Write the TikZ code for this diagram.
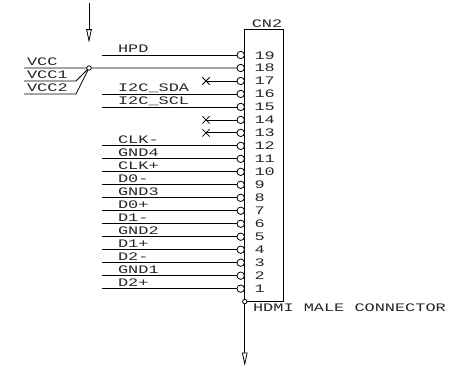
\documentclass[tikz,border=0pt]{standalone}
\usepackage{fontspec}
\setmainfont{Liberation Mono}
\usetikzlibrary{arrows.meta,shapes.misc}

\begin{document}
\begin{tikzpicture}[x=1pt,y=-1pt,line width=0.8pt,node distance=12.98pt]
   \tikzstyle{hole}=[circle,draw,fill=white,inner sep=0pt,minimum size=7.4pt,outer sep=0pt]
   \tikzstyle{dot}=[circle,draw,fill=white,inner sep=0pt,minimum size=4.5pt,outer sep=0pt]
   \tikzstyle{nc}=[cross out,draw,inner sep=0pt,minimum size=6.5pt]
   \tikzstyle{txt}=[inner sep=0pt,font=\fontsize{11.5}{12}\selectfont,xscale=1.47,transform shape,text=black!85]
   \tikzstyle{sig}=[txt,anchor=base west,yshift=2.2pt]
   \tikzstyle{num}=[txt,anchor=base west,yshift=-4pt]
   \tikzstyle{probe}=[-{Triangle[open,length=13.5pt,width=5.5pt]}]
   \useasboundingbox (0,0) rectangle (455,368);

   \node[draw,inner sep=0pt,outer sep=0pt,minimum width=38.3pt,minimum height=272.1pt] (cn2) at (263.9,165.5) {};
   \node[txt,anchor=base] (cn2t) at (267,27.3) {CN2};
   \node[txt,anchor=base west] (cn2d) at (252.5,311.8) {HDMI MALE CONNECTOR};

   \node[hole] (p19) at (240.7,55) {};
   \node[hole] (p18) [below of=p19] {};
   \node[hole] (p17) [below of=p18] {};
   \node[hole] (p16) [below of=p17] {};
   \node[hole] (p15) [below of=p16] {};
   \node[hole] (p14) [below of=p15] {};
   \node[hole] (p13) [below of=p14] {};
   \node[hole] (p12) [below of=p13] {};
   \node[hole] (p11) [below of=p12] {};
   \node[hole] (p10) [below of=p11] {};
   \node[hole] (p9)  [below of=p10] {};
   \node[hole] (p8)  [below of=p9]  {};
   \node[hole] (p7)  [below of=p8]  {};
   \node[hole] (p6)  [below of=p7]  {};
   \node[hole] (p5)  [below of=p6]  {};
   \node[hole] (p4)  [below of=p5]  {};
   \node[hole] (p3)  [below of=p4]  {};
   \node[hole] (p2)  [below of=p3]  {};
   \node[hole] (p1)  [below of=p2]  {};

   \coordinate (numcol) at (254,0);
   \node[num] (n19) at (p19 -| numcol) {19};
   \node[num] (n18) at (p18 -| numcol) {18};
   \node[num] (n17) at (p17 -| numcol) {17};
   \node[num] (n16) at (p16 -| numcol) {16};
   \node[num] (n15) at (p15 -| numcol) {15};
   \node[num] (n14) at (p14 -| numcol) {14};
   \node[num] (n13) at (p13 -| numcol) {13};
   \node[num] (n12) at (p12 -| numcol) {12};
   \node[num] (n11) at (p11 -| numcol) {11};
   \node[num] (n10) at (p10 -| numcol) {10};
   \node[num] (n9)  at (p9 -| numcol)  {9};
   \node[num] (n8)  at (p8 -| numcol)  {8};
   \node[num] (n7)  at (p7 -| numcol)  {7};
   \node[num] (n6)  at (p6 -| numcol)  {6};
   \node[num] (n5)  at (p5 -| numcol)  {5};
   \node[num] (n4)  at (p4 -| numcol)  {4};
   \node[num] (n3)  at (p3 -| numcol)  {3};
   \node[num] (n2)  at (p2 -| numcol)  {2};
   \node[num] (n1)  at (p1 -| numcol)  {1};

   \coordinate (wirecol) at (102,0);
   \coordinate (txtcol) at (117.5,0);
   \coordinate (nccol) at (206,0);
   \coordinate (railcol) at (24,0);
   \coordinate (vcctxt) at (26.5,0);
   \coordinate (kneecol) at (76,0);

   \node[sig] (hpd)  at (p19 -| txtcol) {HPD};
   \node[sig] (sda)  at (p16 -| txtcol) {I2C\_SDA};
   \node[sig] (scl)  at (p15 -| txtcol) {I2C\_SCL};
   \node[sig] (clkm) at (p12 -| txtcol) {CLK-};
   \node[sig] (gnd4) at (p11 -| txtcol) {GND4};
   \node[sig] (clkp) at (p10 -| txtcol) {CLK+};
   \node[sig] (d0m)  at (p9 -| txtcol)  {D0-};
   \node[sig] (gnd3) at (p8 -| txtcol)  {GND3};
   \node[sig] (d0p)  at (p7 -| txtcol)  {D0+};
   \node[sig] (d1m)  at (p6 -| txtcol)  {D1-};
   \node[sig] (gnd2) at (p5 -| txtcol)  {GND2};
   \node[sig] (d1p)  at (p4 -| txtcol)  {D1+};
   \node[sig] (d2m)  at (p3 -| txtcol)  {D2-};
   \node[sig] (gnd1) at (p2 -| txtcol)  {GND1};
   \node[sig] (d2p)  at (p1 -| txtcol)  {D2+};

   \node[nc] (x17) at (p17 -| nccol) {};
   \node[nc] (x14) at (p14 -| nccol) {};
   \node[nc] (x13) at (p13 -| nccol) {};

   \node[dot] (vjoin) at (89,68) {};
   \node[dot] (gjoin) at (cn2.south west) {};
   \coordinate (vtop) at (89,3.3);
   \coordinate (vtip) at (89,42.7);
   \coordinate (gtip) at (gjoin |- 0,366);
   \coordinate (v0) at (p18 -| railcol);
   \coordinate (v1) at (p17 -| railcol);
   \coordinate (v2) at (p16 -| railcol);
   \coordinate (k1) at (p17 -| kneecol);
   \coordinate (k2) at (p16 -| kneecol);
   \node[sig] (vcc)  at (p18 -| vcctxt) {VCC};
   \node[sig] (vcc1) at (p17 -| vcctxt) {VCC1};
   \node[sig] (vcc2) at (p16 -| vcctxt) {VCC2};

   \path
     (p19 -| wirecol) edge (p19)
     (p16 -| wirecol) edge (p16)
     (p15 -| wirecol) edge (p15)
     (p12 -| wirecol) edge (p12)
     (p11 -| wirecol) edge (p11)
     (p10 -| wirecol) edge (p10)
     (p9 -| wirecol)  edge (p9)
     (p8 -| wirecol)  edge (p8)
     (p7 -| wirecol)  edge (p7)
     (p6 -| wirecol)  edge (p6)
     (p5 -| wirecol)  edge (p5)
     (p4 -| wirecol)  edge (p4)
     (p3 -| wirecol)  edge (p3)
     (p2 -| wirecol)  edge (p2)
     (p1 -| wirecol)  edge (p1);
   \draw (x17.center) -- (p17);
   \draw (x14.center) -- (p14);
   \draw (x13.center) -- (p13);
   \draw (v0) -- (vjoin);
   \draw (vjoin) -- (p18);
   \draw (v1) -- (k1) -- (vjoin);
   \draw (v2) -- (k2) -- (vjoin);
   \draw[probe] (vtop) -- (vtip);
   \draw[probe] (gjoin) -- (gtip);
\end{tikzpicture}
\end{document}
